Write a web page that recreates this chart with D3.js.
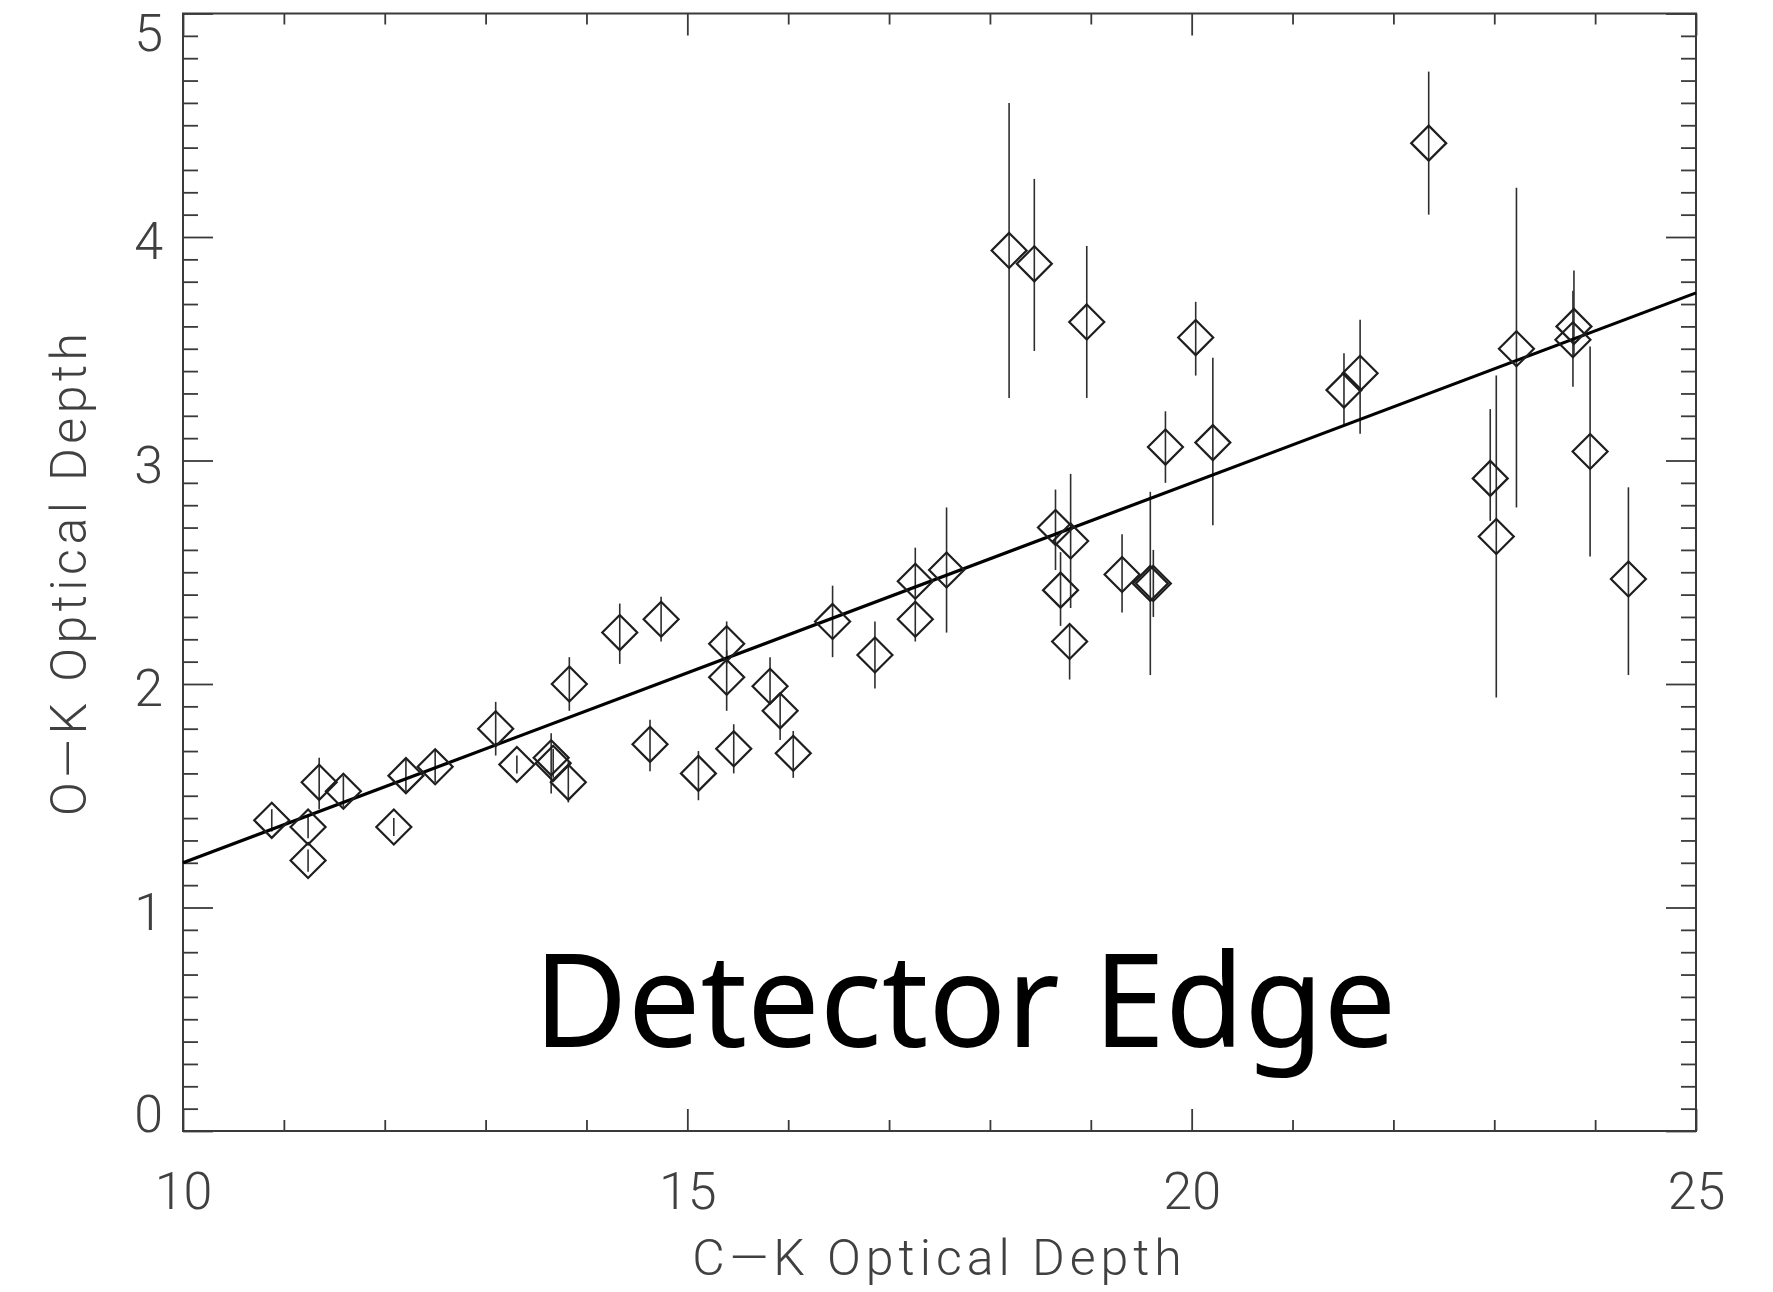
<!DOCTYPE html>
<html>
<head>
<meta charset="utf-8">
<script src="https://cdn.jsdelivr.net/npm/d3@7"></script>
<style>
  html, body { margin: 0; padding: 0; background: #fff; }
  svg { display: block; }
  .tick text { font-family: Roboto, "DejaVu Sans", sans-serif; font-weight: 300; }
</style>
</head>
<body>
<svg id="chart" width="1773" height="1292"></svg>
<script>
// C-K vs O-K optical depth measurements (diamond = value, bar = lower/upper bound)
const ckDepth = [10.88, 11.24, 11.24, 11.35, 11.59, 12.09, 12.21, 12.50, 13.10, 13.31,
                 13.65, 13.67, 13.82, 13.83, 14.33, 14.63, 14.74, 15.11, 15.39, 15.39,
                 15.46, 15.82, 15.92, 16.05, 16.44, 16.86, 17.26, 17.26, 17.57, 18.19,
                 18.44, 18.65, 18.70, 18.80, 18.79, 18.96, 19.31, 19.59, 19.62, 19.74,
                 20.04, 20.21, 21.51, 21.67, 22.35, 22.96, 23.02, 23.22, 23.78, 23.79,
                 23.95, 24.33];
const okDepth = [1.39, 1.36, 1.21, 1.56, 1.52, 1.36, 1.59, 1.63, 1.80, 1.64,
                 1.67, 1.645, 1.56, 2.00, 2.23, 1.73, 2.29, 1.60, 2.18, 2.03,
                 1.71, 1.99, 1.88, 1.69, 2.28, 2.13, 2.29, 2.46, 2.51, 3.94,
                 3.88, 2.70, 2.42, 2.64, 2.19, 3.62, 2.49, 2.45, 2.45, 3.06,
                 3.55, 3.08, 3.315, 3.39, 4.42, 2.92, 2.66, 3.50, 3.54, 3.60,
                 3.04, 2.47];
const okLow  = [1.34, 1.31, 1.16, 1.44, 1.45, 1.32, 1.52, 1.56, 1.68, 1.60,
                1.51, 1.58, 1.47, 1.88, 2.09, 1.61, 2.19, 1.48, 2.09, 1.88,
                1.60, 1.92, 1.75, 1.58, 2.12, 1.98, 2.19, 2.39, 2.23, 3.28,
                3.49, 2.51, 2.26, 2.34, 2.02, 3.28, 2.32, 2.04, 2.30, 2.90,
                3.38, 2.71, 3.16, 3.12, 4.10, 2.73, 1.94, 2.79, 3.33, 3.47,
                2.57, 2.04];
const okHigh = [1.44, 1.41, 1.26, 1.67, 1.59, 1.40, 1.67, 1.70, 1.92, 1.68,
                1.78, 1.71, 1.65, 2.12, 2.36, 1.84, 2.39, 1.70, 2.28, 2.15,
                1.82, 2.12, 1.96, 1.79, 2.44, 2.28, 2.39, 2.61, 2.79, 4.60,
                4.26, 2.87, 2.59, 2.94, 2.26, 3.96, 2.67, 2.86, 2.60, 3.22,
                3.71, 3.46, 3.48, 3.63, 4.74, 3.23, 3.38, 4.22, 3.76, 3.85,
                3.51, 2.88];

// Linear fit O-K = slope * C-K + intercept
const fitSlope = 0.17;
const fitIntercept = -0.5;

// Axis ticks
const xMajor = [10, 15, 20, 25];
const xTicks = d3.range(10, 25.5, 1);
const yMajor = [0, 1, 2, 3, 4, 5];
const yTicks = d3.range(0, 50.5, 1).map(v => v / 10);

const xTitle = "C\u2014K  Optical  Depth";
const yTitle = "O\u2014K  Optical  Depth";
const noteText = "Detector Edge";

const points = ckDepth.map((c, i) => ({ c, o: okDepth[i], lo: okLow[i], hi: okHigh[i] }));

const svg = d3.select("#chart");
const L = 183, R = 1696, T = 13.5, B = 1131;
const x = d3.scaleLinear().domain([10, 25]).range([L, R]);
const y = d3.scaleLinear().domain([0, 5]).range([B, T]);

const axisColor = "#3a3a3a";
const isMajorX = v => xMajor.some(m => Math.abs(m - v) < 1e-6);
const isMajorY = v => yMajor.some(m => Math.abs(m - v) < 1e-6);
const xMajLen = 22, xMinLen = 11, yMajLen = 30, yMinLen = 15;

function styleAxis(g, majorTest, majLen, minLen, dir) {
  g.select(".domain").remove();
  g.selectAll(".tick line")
    .attr("stroke", axisColor)
    .attr("stroke-width", 1.8)
    .each(function(d) {
      const len = majorTest(d) ? majLen : minLen;
      const sel = d3.select(this);
      if (dir === "x") sel.attr("y2", len); else sel.attr("x2", len);
    });
}

// bottom axis with labels
const gB = svg.append("g").attr("transform", `translate(0,${B})`)
  .call(d3.axisBottom(x).tickValues(xTicks).tickSize(0).tickPadding(41)
    .tickFormat(d => isMajorX(d) ? d3.format("d")(d) : ""));
styleAxis(gB, isMajorX, -xMajLen, -xMinLen, "x");
gB.selectAll(".tick text").attr("font-size", 52).attr("fill", "#404040");

// top axis, ticks only
const gT = svg.append("g").attr("transform", `translate(0,${T})`)
  .call(d3.axisTop(x).tickValues(xTicks).tickSize(0).tickFormat(""));
styleAxis(gT, isMajorX, xMajLen, xMinLen, "x");

// left axis with labels
const gL = svg.append("g").attr("transform", `translate(${L},0)`)
  .call(d3.axisLeft(y).tickValues(yTicks).tickSize(0).tickPadding(20)
    .tickFormat(d => isMajorY(d) ? d3.format("d")(d) : ""));
styleAxis(gL, isMajorY, yMajLen, yMinLen, "y");
gL.selectAll(".tick text").attr("font-size", 52).attr("fill", "#404040")
  .attr("dy", d => d === 0 ? "0em" : d === 5 ? "0.72em" : "0.42em");

// right axis, ticks only
const gR = svg.append("g").attr("transform", `translate(${R},0)`)
  .call(d3.axisRight(y).tickValues(yTicks).tickSize(0).tickFormat(""));
styleAxis(gR, isMajorY, -yMajLen, -yMinLen, "y");

// plot frame
svg.append("rect")
  .attr("x", L).attr("y", T).attr("width", R - L).attr("height", B - T)
  .attr("fill", "none").attr("stroke", axisColor).attr("stroke-width", 2);

// axis titles
svg.append("text")
  .attr("x", (L + R) / 2).attr("y", 1275)
  .attr("text-anchor", "middle")
  .attr("font-family", "Roboto, 'DejaVu Sans', sans-serif")
  .attr("font-weight", 300).attr("font-size", 50)
  .attr("letter-spacing", 5)
  .attr("fill", "#404040")
  .text(xTitle);

svg.append("text")
  .attr("transform", `translate(86,${(T + B) / 2}) rotate(-90)`)
  .attr("text-anchor", "middle")
  .attr("font-family", "Roboto, 'DejaVu Sans', sans-serif")
  .attr("font-weight", 300).attr("font-size", 50)
  .attr("letter-spacing", 4.5)
  .attr("fill", "#404040")
  .text(yTitle);

const plot = svg.append("g");

// error bars
plot.selectAll("line.err").data(points).join("line")
  .attr("class", "err")
  .attr("x1", d => x(d.c)).attr("x2", d => x(d.c))
  .attr("y1", d => y(d.lo)).attr("y2", d => y(d.hi))
  .attr("stroke", "#2e2e2e").attr("stroke-width", 1.6);

// fit line
plot.append("line")
  .attr("x1", x(10)).attr("y1", y(fitSlope * 10 + fitIntercept))
  .attr("x2", x(25)).attr("y2", y(fitSlope * 25 + fitIntercept))
  .attr("stroke", "#000").attr("stroke-width", 3.2);

// diamonds
const r = 17.5;
plot.selectAll("path.pt").data(points).join("path")
  .attr("class", "pt")
  .attr("d", d => {
    const cx = x(d.c), cy = y(d.o);
    return `M${cx},${cy - r}L${cx + r},${cy}L${cx},${cy + r}L${cx - r},${cy}Z`;
  })
  .attr("fill", "none").attr("stroke", "#1e1e1e").attr("stroke-width", 2.2);

// annotation
svg.append("text")
  .attr("x", 965).attr("y", 1047)
  .attr("text-anchor", "middle")
  .attr("font-family", "'Noto Sans', 'Open Sans', sans-serif")
  .attr("font-size", 129)
  .attr("fill", "#000")
  .text(noteText);
</script>
</body>
</html>
